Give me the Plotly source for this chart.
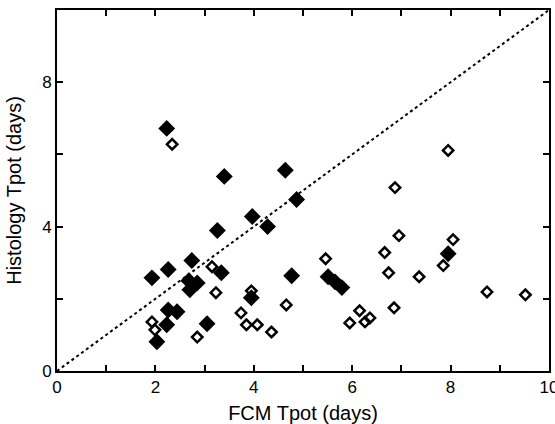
import plotly.graph_objects as go

# Filled diamonds
filled_x = [2.23, 3.40, 4.64, 4.87, 3.26, 3.97, 4.28, 2.74, 2.26, 1.93, 2.68, 2.85, 2.70,
            3.34, 2.26, 2.44, 2.23, 2.03, 3.05, 4.77, 3.95, 5.51, 5.65, 5.79, 7.95]
filled_y = [6.72, 5.39, 5.56, 4.75, 3.89, 4.28, 4.00, 3.06, 2.81, 2.58, 2.50, 2.44, 2.25,
            2.72, 1.69, 1.64, 1.28, 0.81, 1.31, 2.64, 2.03, 2.61, 2.47, 2.31, 3.25]

# Open diamonds
open_x = [2.34, 3.15, 3.23, 1.93, 1.99, 2.85, 3.95, 4.66, 3.74, 3.85, 4.07, 4.36, 5.46, 5.95,
          6.15, 6.26, 6.36, 6.85, 6.74, 6.66, 6.95, 6.87, 7.36, 7.95, 8.05, 7.85, 8.74, 9.52]
open_y = [6.28, 2.89, 2.17, 1.36, 1.14, 0.94, 2.22, 1.83, 1.61, 1.28, 1.28, 1.08, 3.11, 1.33,
          1.67, 1.36, 1.47, 1.75, 2.72, 3.28, 3.75, 5.08, 2.61, 6.11, 3.64, 2.92, 2.19, 2.11]

identity = [0, 10]

fig = go.Figure()
fig.add_trace(go.Scatter(x=identity, y=identity, mode="lines",
                         line=dict(color="black", width=2, dash="dot"),
                         showlegend=False, hoverinfo="skip"))
fig.add_trace(go.Scatter(x=open_x, y=open_y, mode="markers",
                         marker=dict(symbol="diamond-open", size=8, color="black",
                                     line=dict(width=2.5, color="black")),
                         showlegend=False))
fig.add_trace(go.Scatter(x=filled_x, y=filled_y, mode="markers",
                         marker=dict(symbol="diamond", size=13, color="black",
                                     line=dict(width=0)),
                         showlegend=False))

font = dict(family="Liberation Sans, Arial, sans-serif", size=17, color="black")

fig.update_layout(
    width=555, height=424,
    margin=dict(l=57, r=6, t=10, b=53),
    paper_bgcolor="white", plot_bgcolor="white",
    font=font,
    xaxis=dict(range=[0, 10], tickvals=[0, 2, 4, 6, 8, 10],
               ticks="inside", ticklen=6, tickwidth=2, tickcolor="black",
               minor=dict(dtick=1, ticks="inside", ticklen=6, tickwidth=2, tickcolor="black"),
               showline=True, linewidth=2, linecolor="black", mirror="ticks",
               showgrid=False, zeroline=False, automargin=False,
               ticklabeloverflow="allow",
               title=dict(text="FCM Tpot (days)"),
               tickfont=font),
    yaxis=dict(range=[0, 10], tickvals=[0, 4, 8],
               ticks="inside", ticklen=6, tickwidth=2, tickcolor="black",
               minor=dict(dtick=2, ticks="inside", ticklen=6, tickwidth=2, tickcolor="black"),
               showline=True, linewidth=2, linecolor="black", mirror="ticks",
               showgrid=False, zeroline=False, automargin=False,
               title=dict(text="Histology Tpot (days)"),
               tickfont=font),
)

fig.write_html("out.html",
               config={"displayModeBar": False},
               post_script="document.body.style.margin='0';document.body.style.overflow='hidden';")
